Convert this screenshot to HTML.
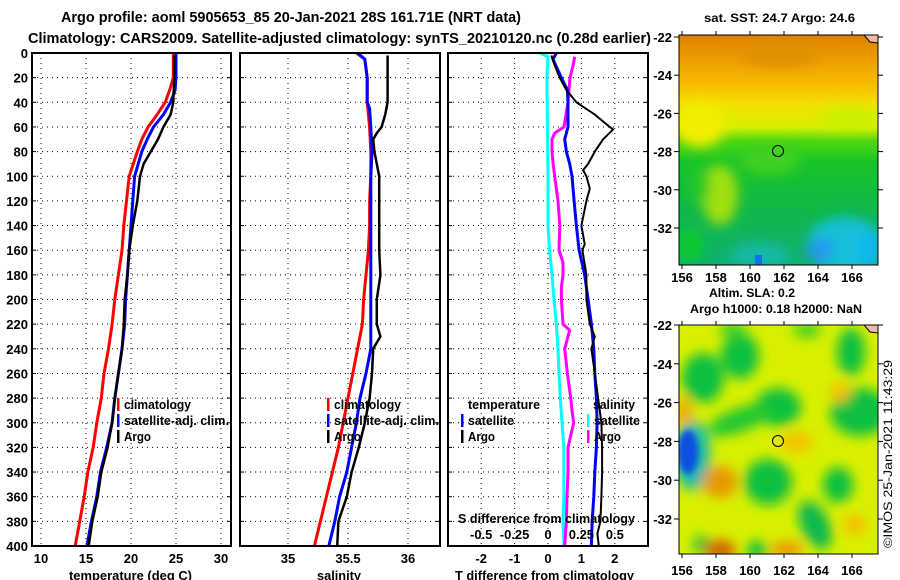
<!DOCTYPE html>
<html><head><meta charset="utf-8">
<style>
html,body{margin:0;padding:0;background:#fff;}
svg{display:block;font-family:"Liberation Sans",sans-serif;font-weight:bold;}
</style></head>
<body>
<svg id="chart" width="900" height="580" viewBox="0 0 900 580" xmlns="http://www.w3.org/2000/svg">
<defs>
<filter id="blur6" x="-50%" y="-50%" width="200%" height="200%"><feGaussianBlur stdDeviation="6"/></filter>
<filter id="blur3" x="-50%" y="-50%" width="200%" height="200%"><feGaussianBlur stdDeviation="3"/></filter>
<clipPath id="clipTop"><rect x="679" y="35" width="199" height="230"/></clipPath>
<clipPath id="clipBot"><rect x="679" y="325" width="199" height="229"/></clipPath>
<linearGradient id="sstGrad" x1="0" y1="0" x2="0" y2="1">
<stop offset="0" stop-color="#dc8000"/><stop offset="0.08" stop-color="#ea9600"/>
<stop offset="0.2" stop-color="#f6b800"/><stop offset="0.3" stop-color="#f4e000"/>
<stop offset="0.4" stop-color="#d8f000"/><stop offset="0.46" stop-color="#50d810"/>
<stop offset="0.55" stop-color="#18c428"/><stop offset="0.75" stop-color="#10b848"/>
<stop offset="1" stop-color="#10b070"/></linearGradient>
</defs>
<g id="titles">
<text x="61" y="22" font-size="14.5" textLength="460" lengthAdjust="spacingAndGlyphs">Argo profile: aoml 5905653_85 20-Jan-2021 28S 161.71E (NRT data)</text>
<text x="28" y="43" font-size="14.5" textLength="623" lengthAdjust="spacingAndGlyphs">Climatology: CARS2009. Satellite-adjusted climatology: synTS_20210120.nc (0.28d earlier)</text>
</g>
<g id="panels"></g>
<g id="maps">
 <g clip-path="url(#clipTop)">
  <rect x="679" y="35" width="199" height="230" fill="url(#sstGrad)"/>
  <g filter="url(#blur6)">
   <ellipse cx="700" cy="125" rx="25" ry="22" fill="#f2ee00"/>
   <ellipse cx="850" cy="118" rx="30" ry="10" fill="#c8f000"/>
   <ellipse cx="720" cy="195" rx="18" ry="30" fill="#a0e010"/>
   <ellipse cx="700" cy="185" rx="10" ry="20" fill="#28c828"/>
   <ellipse cx="770" cy="160" rx="30" ry="15" fill="#40d020"/>
   <ellipse cx="845" cy="245" rx="38" ry="28" fill="#18c0d8"/>
   <ellipse cx="820" cy="250" rx="14" ry="12" fill="#2098f0"/>
   <ellipse cx="870" cy="250" rx="12" ry="18" fill="#10b8f0"/>
   <ellipse cx="760" cy="255" rx="30" ry="12" fill="#18b8a8"/>
   <ellipse cx="690" cy="245" rx="14" ry="18" fill="#10c830"/>
   <ellipse cx="780" cy="55" rx="40" ry="12" fill="#e09000"/>
  </g>
  <rect x="755" y="255" width="7" height="10" fill="#1070f0"/>
  <polygon points="864,35 878,35 878,43 870,42" fill="#f0b8a0" stroke="#000" stroke-width="1"/>
 </g>
 <rect x="679" y="35" width="199" height="230" fill="none" stroke="#000" stroke-width="1"/>
 <circle cx="778" cy="151" r="5.5" fill="none" stroke="#000" stroke-width="1"/>
 <g clip-path="url(#clipBot)">
  <rect x="679" y="325" width="199" height="229" fill="#d8f000"/>
  <g filter="url(#blur6)">
   <ellipse cx="703" cy="378" rx="21" ry="25" fill="#10c040"/>
   <ellipse cx="740" cy="356" rx="19" ry="23" fill="#10c040"/>
   <ellipse cx="778" cy="407" rx="23" ry="19" fill="#10c040"/>
   <ellipse cx="740" cy="420" rx="34" ry="12" fill="#20c830" transform="rotate(-20 740 420)"/>
   <ellipse cx="768" cy="482" rx="24" ry="23" fill="#10c040"/>
   <ellipse cx="860" cy="412" rx="30" ry="24" fill="#10c040"/>
   <ellipse cx="851" cy="352" rx="14" ry="24" fill="#10c040"/>
   <ellipse cx="838" cy="485" rx="15" ry="18" fill="#10c040"/>
   <ellipse cx="815" cy="525" rx="14" ry="26" fill="#10b850" transform="rotate(-25 815 525)"/>
   <ellipse cx="757" cy="550" rx="11" ry="9" fill="#10c040"/>
   <ellipse cx="702" cy="545" rx="9" ry="9" fill="#10c040"/>
   <ellipse cx="733" cy="330" rx="14" ry="8" fill="#40d020"/>
   <ellipse cx="807" cy="330" rx="14" ry="8" fill="#40d020"/>
   <ellipse cx="692" cy="455" rx="18" ry="35" fill="#18b8b0"/>
   <ellipse cx="720" cy="482" rx="18" ry="16" fill="#e89800"/>
   <ellipse cx="684" cy="412" rx="8" ry="15" fill="#f0a800"/>
   <ellipse cx="840" cy="392" rx="10" ry="10" fill="#f4c000"/>
   <ellipse cx="797" cy="442" rx="16" ry="10" fill="#f4c000"/>
   <ellipse cx="720" cy="550" rx="16" ry="10" fill="#d06000"/>
   <ellipse cx="787" cy="550" rx="16" ry="9" fill="#ec9a00"/>
   <ellipse cx="855" cy="525" rx="12" ry="10" fill="#f4c000"/>
  </g>
  <g filter="url(#blur3)">
   <ellipse cx="688" cy="452" rx="10" ry="22" fill="#1050e0"/>
  </g>
  <polygon points="864,325 878,325 878,333 870,332" fill="#f0b8a0" stroke="#000" stroke-width="1"/>
 </g>
 <rect x="679" y="325" width="199" height="229" fill="none" stroke="#000" stroke-width="1"/>
 <circle cx="778" cy="441" r="5.5" fill="none" stroke="#000" stroke-width="1"/>
 <text x="704" y="22" font-size="12" textLength="151" lengthAdjust="spacingAndGlyphs">sat. SST: 24.7 Argo: 24.6</text>
 <text x="709" y="297" font-size="12" textLength="86" lengthAdjust="spacingAndGlyphs">Altim. SLA: 0.2</text>
 <text x="690" y="313" font-size="12" textLength="172" lengthAdjust="spacingAndGlyphs">Argo h1000: 0.18 h2000: NaN</text>
 <text x="892" y="548" font-size="12" font-weight="normal" textLength="188" lengthAdjust="spacingAndGlyphs" transform="rotate(-90 892 548)">©IMOS 25-Jan-2021 11:43:29</text>
</g>
</svg>
<script>
// ---- data ----
const climDepth = [0,5,20,30,40,50,60,70,80,100,120,140,160,180,200,220,240,260,280,300,320,340,360,380,400];
const climT = [24.7,24.7,24.7,24.3,23.8,22.9,21.9,21.2,20.7,19.8,19.5,19.2,19.0,18.6,18.2,17.9,17.5,17.0,16.7,16.2,15.8,15.2,14.8,14.3,13.8];
const satT = [25.0,25.0,25.0,24.9,24.4,23.6,22.5,21.8,21.2,20.4,20.2,20.0,19.8,19.6,19.4,19.3,19.0,18.6,18.2,17.9,17.3,16.6,16.2,15.6,15.1];
const argoDepth = [2,20,40,50,60,70,80,90,100,120,140,160,180,200,220,240,260,280,300,320,340,360,380,400];
const argoT = [24.8,24.8,24.7,24.4,23.6,23.0,22.2,21.4,21.0,20.7,20.2,19.8,19.6,19.3,19.2,19.0,18.6,18.2,17.9,17.4,16.7,16.3,15.7,15.3];
const climSDepth = [0,5,20,40,60,80,100,120,140,160,180,200,220,240,260,280,300,320,340,360,380,400];
const climS = [35.57,35.64,35.66,35.66,35.68,35.69,35.69,35.68,35.68,35.67,35.65,35.63,35.62,35.58,35.54,35.50,35.46,35.42,35.37,35.32,35.27,35.22];
const satSDepth = [0,5,20,40,45,60,80,100,120,140,160,180,200,220,240,260,280,300,320,340,360,380,400];
const satS = [35.58,35.64,35.66,35.66,35.68,35.69,35.70,35.69,35.69,35.69,35.69,35.69,35.69,35.69,35.69,35.65,35.60,35.57,35.53,35.49,35.43,35.39,35.34];
const argoSDepth = [2,40,50,60,65,70,80,90,100,120,140,160,180,200,220,230,240,260,280,300,320,340,360,380,400];
const argoS = [35.83,35.83,35.81,35.78,35.74,35.71,35.72,35.74,35.76,35.76,35.76,35.76,35.77,35.74,35.74,35.77,35.71,35.70,35.68,35.64,35.59,35.53,35.49,35.42,35.41];
const dTsatDepth = [0,5,20,30,40,60,70,80,90,100,120,140,160,180,200,220,240,260,280,300,320,340,360,380,400];
const dTsat = [0.25,0.15,0.4,0.58,0.6,0.6,0.5,0.55,0.65,0.72,0.78,0.85,0.93,1.1,1.2,1.3,1.37,1.4,1.45,1.47,1.45,1.4,1.37,1.32,1.3];
const dTargoDepth = [2,10,20,30,40,50,60,62,70,80,90,95,100,110,120,140,155,160,180,200,220,230,240,260,280,300,320,340,360,380,390,400];
const dTargo = [0.1,0.2,0.35,0.55,0.85,1.4,1.85,1.95,1.65,1.4,1.2,1.05,1.15,1.25,1.15,1.0,1.1,1.03,1.15,1.15,1.25,1.4,1.3,1.4,1.5,1.6,1.62,1.62,1.6,1.57,1.48,1.52];
const dSsatDepth = [0,3,20,100,140,160,180,200,220,240,260,280,300,320,340,360,380,400];
const dSsat = [-0.062,0,-0.008,0,0,0.012,0.03,0.045,0.062,0.075,0.082,0.092,0.105,0.118,0.118,0.118,0.112,0.12];
const dSargoDepth = [3,10,20,40,50,60,65,70,80,90,100,120,140,160,170,180,190,200,220,225,230,240,260,280,290,300,320,340,360,380,400];
const dSargo = [0.2,0.188,0.165,0.15,0.135,0.12,0.05,0.03,0.03,0.038,0.05,0.075,0.088,0.082,0.112,0.112,0.1,0.1,0.112,0.162,0.15,0.125,0.145,0.17,0.18,0.192,0.15,0.15,0.142,0.138,0.125];
const depthTicks = [0,20,40,60,80,100,120,140,160,180,200,220,240,260,280,300,320,340,360,380,400];
const tempTicks = [10,15,20,25,30];
const salTicks = [35,35.5,36];
const salTickLabels = ["35","35.5","36"];
const dTTicks = [-2,-1,0,1,2];
const dSTicks = [-0.5,-0.25,0,0.25,0.5];
const dSTickLabels = ["-0.5","-0.25","0","0.25","0.5"];
const mapLonTicks = [156,158,160,162,164,166];
const mapLatTicks = [-22,-24,-26,-28,-30,-32];

// ---- axes ----
const NS = "http://www.w3.org/2000/svg";
const Y0 = 53, Y1 = 546;
const yDepth = d => Y0 + (Y1 - Y0) * d / 400;
const xTemp = t => 41 + (t - 10) * 9;
const xSal = s => 288 + (s - 35) * 120;
const xDT = v => 548 + v * 33.4;
const xDS = v => 548 + v * 4 * 33.4;
const lonX = lon => 682 + (lon - 156) * 17;
const latYTop = lat => 37 + (-22 - lat) * 19.1;
const latYBot = lat => 325 + (-22 - lat) * 19.4;

const root = document.getElementById('panels');
function mk(tag, attrs, parent) {
  const e = document.createElementNS(NS, tag);
  for (const k in attrs) e.setAttribute(k, attrs[k]);
  (parent || root).appendChild(e);
  return e;
}
function txt(x, y, s, anchor, size, parent, len) {
  const a = {x: x, y: y, 'font-size': size || 13, 'text-anchor': anchor || 'middle'};
  if (len) { a.textLength = len; a.lengthAdjust = 'spacingAndGlyphs'; }
  const t = mk('text', a, parent);
  t.textContent = s;
  return t;
}

function panel(name, x0, x1, xticks, xfn) {
  const g = mk('g', {});
  
  
  depthTicks.forEach(d => {
    if (d === 0 || d === 400) return;
    const l = mk('line', {x1: x0, x2: x1, y1: yDepth(d), y2: yDepth(d), stroke: '#000', 'stroke-width': 1, 'stroke-dasharray': '1,4'}, g);
    
    
    mk('line', {x1: x0, x2: x0 + 4, y1: yDepth(d), y2: yDepth(d), stroke: '#000', 'stroke-width': 1}, g);
    mk('line', {x1: x1 - 4, x2: x1, y1: yDepth(d), y2: yDepth(d), stroke: '#000', 'stroke-width': 1}, g);
  });
  xticks.forEach(v => {
    const x = xfn(v);
    const l = mk('line', {x1: x, x2: x, y1: Y0, y2: Y1, stroke: '#000', 'stroke-width': 1, 'stroke-dasharray': '1,4'}, g);
    
    
  });
  return g;
}
function frame(g, x0, x1) {
  const r = mk('rect', {x: x0, y: Y0, width: x1 - x0, height: Y1 - Y0, fill: 'none', stroke: '#000', 'stroke-width': 2}, g);
  
  
}
function series(g, depths, vals, xfn, color, w, name) {
  const pts = depths.map((d, i) => xfn(vals[i]).toFixed(1) + ',' + yDepth(d).toFixed(1)).join(' ');
  const p = mk('polyline', {points: pts, fill: 'none', stroke: color, 'stroke-width': w, 'stroke-linejoin': 'round'}, g);
  
  
}
function legendEntry(g, x, y, color, label, name, len) {
  const e = mk('g', {}, g);
  
  
  mk('rect', {x: x, y: y - 11, width: 2.5, height: 13, fill: color}, e);
  txt(x + 7, y, label, 'start', 13, e, len);
}

// y axis labels
const yl = mk('g', {});


depthTicks.forEach(d => txt(28, yDepth(d) + 5, String(d), 'end', 13, yl));

// Panel 1: temperature
const p1 = panel('temperature-panel', 32, 231, tempTicks, xTemp);
series(p1, climDepth, climT, xTemp, '#ff0000', 3, 'climatology-temperature-line');
series(p1, climDepth, satT, xTemp, '#0000ff', 3, 'satellite-temperature-line');
series(p1, argoDepth, argoT, xTemp, '#000000', 2.5, 'argo-temperature-line');
frame(p1, 32, 231);
tempTicks.forEach(v => txt(xTemp(v), 563, String(v), 'middle', 13, p1));
const xt1 = txt(69, 580, 'temperature (deg C)', 'start', 13, p1, 123);


legendEntry(p1, 117, 409, '#ff0000', 'climatology', 'legend-climatology', 67);
legendEntry(p1, 117, 425, '#0000ff', 'satellite-adj. clim.', 'legend-satellite-adj', 105);
legendEntry(p1, 117, 441, '#000000', 'Argo', 'legend-argo', 27);

// Panel 2: salinity
const p2 = panel('salinity-panel', 240, 440, salTicks, xSal);
series(p2, climSDepth, climS, xSal, '#ff0000', 3, 'climatology-salinity-line');
series(p2, satSDepth, satS, xSal, '#0000ff', 3, 'satellite-salinity-line');
series(p2, argoSDepth, argoS, xSal, '#000000', 2.5, 'argo-salinity-line');
frame(p2, 240, 440);
salTicks.forEach((v, i) => txt(xSal(v), 563, salTickLabels[i], 'middle', 13, p2));
const xt2 = txt(317, 580, 'salinity', 'start', 13, p2, 44);


legendEntry(p2, 327, 409, '#ff0000', 'climatology', 'legend-climatology-sal', 67);
legendEntry(p2, 327, 425, '#0000ff', 'satellite-adj. clim.', 'legend-satellite-adj-sal', 105);
legendEntry(p2, 327, 441, '#000000', 'Argo', 'legend-argo-sal', 27);

// Panel 3: differences
const p3 = panel('difference-panel', 448, 648, dTTicks, xDT);
series(p3, dSsatDepth, dSsat, xDS, '#00ffff', 3, 'salinity-satellite-diff-line');
series(p3, dSargoDepth, dSargo, xDS, '#ff00ff', 3, 'salinity-argo-diff-line');
series(p3, dTsatDepth, dTsat, xDT, '#0000ff', 3, 'temperature-satellite-diff-line');
series(p3, dTargoDepth, dTargo, xDT, '#000000', 2, 'temperature-argo-diff-line');
frame(p3, 448, 648);
dTTicks.forEach(v => txt(xDT(v), 563, String(v), 'middle', 13, p3));
const xt3 = txt(455, 580, 'T difference from climatology', 'start', 13, p3, 179);


const st = txt(458, 523, 'S difference from climatology', 'start', 13, p3, 177);


dSTicks.forEach((v, i) => txt(xDS(v), 539, dSTickLabels[i], 'middle', 13, p3));
txt(468, 409, 'temperature', 'start', 13, p3, 72);
txt(593, 409, 'salinity', 'start', 13, p3, 42);
legendEntry(p3, 461, 425, '#0000ff', 'satellite', 'legend-t-satellite', 46);
legendEntry(p3, 461, 441, '#000000', 'Argo', 'legend-t-argo', 27);
legendEntry(p3, 587, 425, '#00ffff', 'satellite', 'legend-s-satellite', 46);
legendEntry(p3, 587, 441, '#ff00ff', 'Argo', 'legend-s-argo', 27);

// Map axes
const maps = document.getElementById('maps');
function mapAxes(latY, yBottom, yTop, labelY, name) {
  const g = mk('g', {}, maps);
  
  
  mapLatTicks.forEach(lat => {
    const y = latY(lat);
    mk('line', {x1: 674, x2: 679, y1: y, y2: y, stroke: '#000', 'stroke-width': 1}, g);
    mk('line', {x1: 878, x2: 883, y1: y, y2: y, stroke: '#000', 'stroke-width': 1}, g);
    txt(672, y + 5, String(lat), 'end', 13, g);
  });
  mapLonTicks.forEach(lon => {
    const x = lonX(lon);
    mk('line', {x1: x, x2: x, y1: yBottom, y2: yBottom + 4, stroke: '#000', 'stroke-width': 1}, g);
    mk('line', {x1: x, x2: x, y1: yTop - 4, y2: yTop, stroke: '#000', 'stroke-width': 1}, g);
    txt(x, labelY, String(lon), 'middle', 13, g);
  });
}
mapAxes(latYTop, 265, 35, 282, 'sst-map-axes');
mapAxes(latYBot, 554, 325, 575, 'sla-map-axes');
</script>
</body></html>
